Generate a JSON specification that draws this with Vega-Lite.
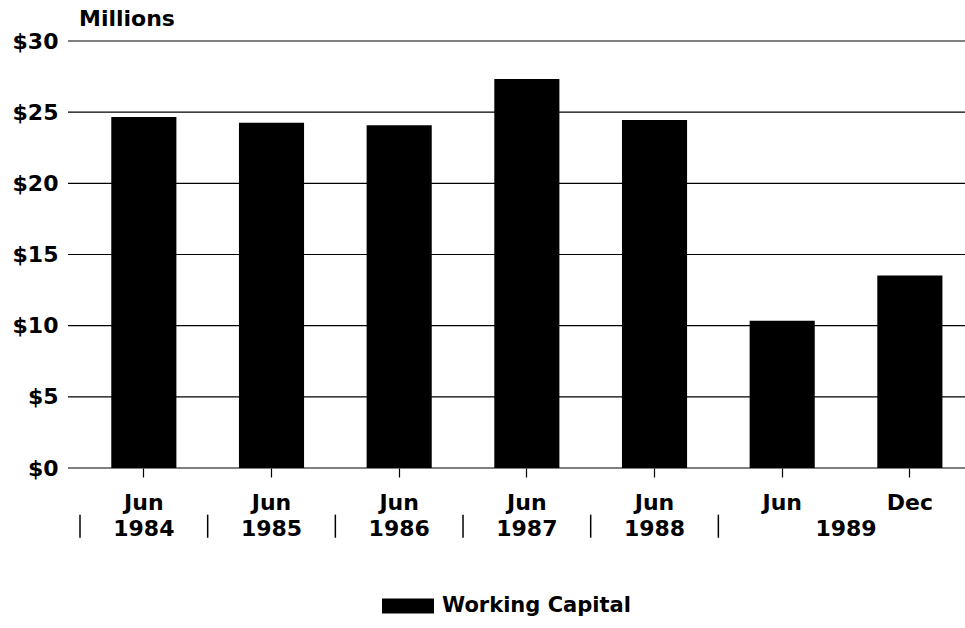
{
  "$schema": "https://vega.github.io/schema/vega-lite/v6.json",
  "autosize": "none",
  "width": 897,
  "height": 427,
  "padding": {"left": 68, "top": 41, "right": 0, "bottom": 160},
  "background": "white",
  "config": {
    "view": {"stroke": null},
    "font": "DejaVu Sans",
    "axis": {"labelFont": "DejaVu Sans", "labelFontWeight": "bold", "labelFontSize": 22, "labelColor": "black"}
  },
  "title": {
    "text": "Millions",
    "anchor": "start",
    "frame": "group",
    "font": "DejaVu Sans",
    "fontSize": 22,
    "fontWeight": "bold",
    "color": "black",
    "baseline": "alphabetic",
    "dx": 11,
    "offset": -18
  },
  "datasets": {
    "bars": [
      {"period": "Jun 1984", "series": "Working Capital", "value": 24.66},
      {"period": "Jun 1985", "series": "Working Capital", "value": 24.26},
      {"period": "Jun 1986", "series": "Working Capital", "value": 24.08},
      {"period": "Jun 1987", "series": "Working Capital", "value": 27.33},
      {"period": "Jun 1988", "series": "Working Capital", "value": 24.45},
      {"period": "Jun 1989", "series": "Working Capital", "value": 10.35},
      {"period": "Dec 1989", "series": "Working Capital", "value": 13.53}
    ],
    "grid": [
      {"tick": 0}, {"tick": 5}, {"tick": 10}, {"tick": 15}, {"tick": 20}, {"tick": 25}, {"tick": 30}
    ],
    "years": [
      {"period": "Jun 1984", "year": "1984"},
      {"period": "Jun 1985", "year": "1985"},
      {"period": "Jun 1986", "year": "1986"},
      {"period": "Jun 1987", "year": "1987"},
      {"period": "Jun 1988", "year": "1988"}
    ],
    "years2": [
      {"period": "Dec 1989", "year": "1989"}
    ],
    "seps": [
      {"period": "Jun 1984"},
      {"period": "Jun 1985"},
      {"period": "Jun 1986"},
      {"period": "Jun 1987"},
      {"period": "Jun 1988"},
      {"period": "Jun 1989"}
    ]
  },
  "layer": [
    {
      "data": {"name": "grid"},
      "mark": {"type": "rule", "color": "black", "strokeWidth": 1.2},
      "encoding": {
        "y": {"field": "tick", "type": "quantitative"}
      }
    },
    {
      "data": {"name": "bars"},
      "mark": {"type": "bar", "width": {"band": 0.51}},
      "encoding": {
        "x": {
          "field": "period",
          "type": "nominal",
          "scale": {
            "domain": ["Jun 1984", "Jun 1985", "Jun 1986", "Jun 1987", "Jun 1988", "Jun 1989", "Dec 1989"],
            "range": [12, 905.7],
            "paddingInner": 0,
            "paddingOuter": 0
          },
          "axis": {
            "title": null,
            "labelAngle": 0,
            "labelExpr": "split(datum.label, ' ')[0]",
            "labelBaseline": "top",
            "labelPadding": 15,
            "domain": false,
            "tickColor": "black",
            "tickSize": 9,
            "tickWidth": 1.2,
            "bandPosition": 0.5,
            "grid": false
          }
        },
        "y": {
          "field": "value",
          "type": "quantitative",
          "scale": {"domain": [0, 30], "nice": false},
          "axis": {
            "title": null,
            "values": [0, 5, 10, 15, 20, 25, 30],
            "labelExpr": "'$' + datum.value",
            "labelPadding": 10,
            "ticks": false,
            "domain": false,
            "grid": false
          }
        },
        "color": {
          "field": "series",
          "type": "nominal",
          "scale": {"range": ["black"]},
          "legend": {
            "title": null,
            "orient": "none",
            "legendX": 314,
            "legendY": 539,
            "symbolType": "M-1,-0.29H1V0.29H-1Z",
            "symbolSize": 2704,
            "symbolFillColor": "black",
            "symbolStrokeWidth": 0,
            "symbolOpacity": 1,
            "labelFont": "DejaVu Sans",
            "labelFontWeight": "bold",
            "labelFontSize": 21,
            "labelColor": "black",
            "labelOffset": 8,
            "labelLimit": 400
          }
        }
      }
    },
    {
      "data": {"name": "years"},
      "mark": {"type": "text", "font": "DejaVu Sans", "fontWeight": "bold", "fontSize": 22, "color": "black", "baseline": "middle", "align": "center"},
      "encoding": {
        "x": {"field": "period", "type": "nominal", "bandPosition": 0.5},
        "y": {"datum": -4.3},
        "text": {"field": "year"}
      }
    },
    {
      "data": {"name": "years2"},
      "mark": {"type": "text", "font": "DejaVu Sans", "fontWeight": "bold", "fontSize": 22, "color": "black", "baseline": "middle", "align": "center"},
      "encoding": {
        "x": {"field": "period", "type": "nominal", "bandPosition": 0},
        "y": {"datum": -4.3},
        "text": {"field": "year"}
      }
    },
    {
      "data": {"name": "seps"},
      "mark": {"type": "rule", "color": "black", "strokeWidth": 1.5},
      "encoding": {
        "x": {"field": "period", "type": "nominal", "bandPosition": 0},
        "y": {"datum": -3.28},
        "y2": {"datum": -4.9}
      }
    }
  ]
}
